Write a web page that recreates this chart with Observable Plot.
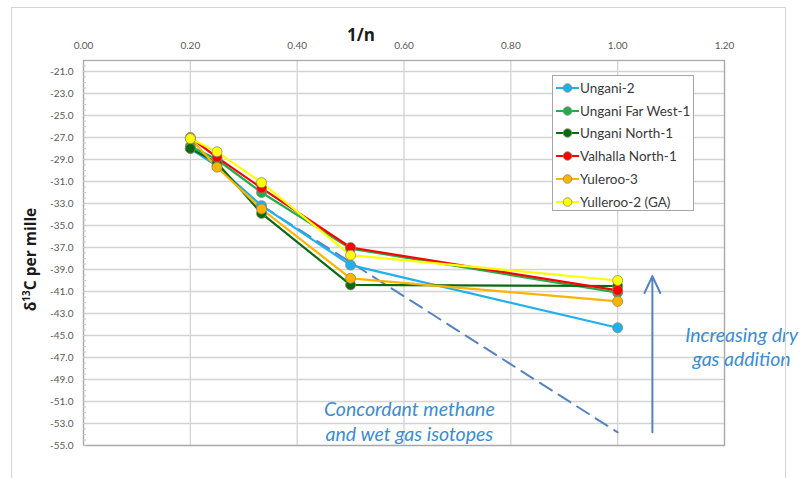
<!DOCTYPE html>
<html>
<head>
<meta charset="utf-8">
<script src="https://cdn.jsdelivr.net/npm/d3@7"></script>
<script src="https://cdn.jsdelivr.net/npm/@observablehq/plot@0.6"></script>
<style>
  html, body { margin: 0; padding: 0; background: #fff; }
  #wrap { position: relative; width: 807px; height: 478px; overflow: hidden; font-family: Lato, "Open Sans", sans-serif; }
  #outer { position: absolute; left: 11px; top: 7px; width: 773px; height: 500px; border: 1px solid #d4d4d4; pointer-events: none; }
  #legend { position: absolute; left: 552px; top: 75px; width: 140px; height: 134px; border: 1px solid #a6a6a6; background: #fff; }
  .item { position: absolute; left: 0; height: 20px; display: flex; align-items: center; font-size: 13.5px; color: #3a3a3a; white-space: nowrap; }
  .item svg { margin-left: 3px; margin-right: 1px; }
</style>
</head>
<body>
<div id="wrap"><div id="outer"></div><div id="legend"></div></div>
<script>
// 1/n for the carbon number of each gas component (C5, C4, C3, C2, C1)
const inverseN = [0.2, 0.25, 1 / 3, 0.5, 1.0];

const wells = ["Ungani-2", "Ungani Far West-1", "Ungani North-1", "Valhalla North-1", "Yuleroo-3", "Yulleroo-2 (GA)"];
const colors = ["#1fb0ee", "#1fae4f", "#0b6a10", "#ff0000", "#ffb300", "#ffff00"];

// δ13C (per mille) at each 1/n
const ungani2        = [-28.0, -29.6, -33.2, -38.6, -44.3];
const unganiFarWest1 = [-27.8, -29.0, -32.0, -37.1, -41.1];
const unganiNorth1   = [-28.0, -29.3, -33.9, -40.4, -40.5];
const valhallaNorth1 = [-27.0, -28.8, -31.6, -37.0, -40.9];
const yuleroo3       = [-27.1, -29.7, -33.5, -39.8, -41.9];
const yulleroo2GA    = [-27.1, -28.3, -31.1, -37.7, -40.0];
const series = [ungani2, unganiFarWest1, unganiNorth1, valhallaNorth1, yuleroo3, yulleroo2GA];

// axis ticks
const xTicks = [0, 0.2, 0.4, 0.6, 0.8, 1.0, 1.2];
const yTicks = d3.range(-55, -20, 2);
const yMinor = d3.range(-55, -20, 0.5);

// annotation: concordant trend and dry-gas arrow
const trend = [{x: 1 / 3, y: -33.2}, {x: 1.0, y: -53.8}];
const dryArrow = [{x: 1.065, y1: -53.8, y2: -39.6}];
const trendLabel = [{x: 0.61, y: -52.7, text: "Concordant methane\nand wet gas isotopes"}];
const dryLabel = [{x: 1.232, y: -46.0, text: "Increasing dry\ngas addition"}];

const rows = series.flatMap((vals, i) => vals.map((v, j) => ({well: wells[i], idx: i, x: inverseN[j], y: v})));

const annoColor = "#3b8dd3";
const arrowColor = "#5583c2";

const plot = Plot.plot({
  width: 807,
  height: 478,
  marginLeft: 83,
  marginRight: 83,
  marginTop: 60,
  marginBottom: 33,
  style: {fontFamily: "Lato, 'Open Sans', sans-serif", color: "#595959", background: "transparent"},
  x: {domain: [0, 1.2]},
  y: {domain: [-55, -20]},
  marks: [
    Plot.gridX(xTicks, {stroke: "#d3d3d3", strokeOpacity: 1, strokeWidth: 1.3}),
    Plot.gridY(yTicks, {stroke: "#d3d3d3", strokeOpacity: 1, strokeWidth: 1.3}),
    Plot.frame({stroke: "#a9a9a9", strokeWidth: 1.3}),
    Plot.axisX({anchor: "top", ticks: xTicks, tickSize: 0, tickPadding: 12, tickFormat: d => d.toFixed(2), fontSize: 10, label: null}),
    Plot.axisY({anchor: "left", ticks: yTicks, tickSize: 0, tickPadding: 10, tickFormat: d => d.toFixed(1), fontSize: 10, label: null}),
    Plot.axisY({anchor: "left", ticks: yMinor, tickSize: -3, tickFormat: () => "", stroke: "#c8c8c8", label: null}),
    Plot.text(["1/n"], {frameAnchor: "top", dx: -43, dy: -32, fontSize: 17, fontWeight: "bold", fill: "#1a1a1a", fontFamily: "'Open Sans', sans-serif"}),
    Plot.line(trend, {x: "x", y: "y", stroke: arrowColor, strokeWidth: 2, strokeDasharray: "14,8"}),
    Plot.arrow(dryArrow, {x: "x", y1: "y1", y2: "y2", stroke: arrowColor, strokeWidth: 2, headLength: 14, headAngle: 50}),
    Plot.text(trendLabel, {x: "x", y: "y", text: "text", fill: annoColor, fontSize: 19.5, fontStyle: "italic", lineHeight: 1.28}),
    Plot.text(dryLabel, {x: "x", y: "y", text: "text", fill: annoColor, fontSize: 19.5, fontStyle: "italic", lineHeight: 1.23}),
    ...series.map((vals, i) =>
      Plot.line(rows.filter(r => r.idx === i), {x: "x", y: "y", stroke: colors[i], strokeWidth: 2.2})
    ),
    ...series.map((vals, i) =>
      Plot.dot(rows.filter(r => r.idx === i), {x: "x", y: "y", r: 5, fill: colors[i], stroke: "#8a8a6a", strokeWidth: 0.8})
    )
  ]
});

// y-axis title with a true superscript
const yMid = (plot.scale("y").range[0] + plot.scale("y").range[1]) / 2;
const yTitle = d3.select(plot).append("text")
  .attr("transform", `translate(36,${yMid + 7}) rotate(-90)`)
  .attr("text-anchor", "middle")
  .attr("font-family", "'Open Sans', sans-serif")
  .attr("font-weight", "bold")
  .attr("font-size", 15.5)
  .attr("fill", "#1a1a1a");
yTitle.append("tspan").text("δ");
yTitle.append("tspan").attr("font-size", 10).attr("dy", -6).text("13");
yTitle.append("tspan").attr("dy", 6).text("C per mille");

const wrap = document.getElementById("wrap");
wrap.insertBefore(plot, wrap.firstChild);

// legend
const legend = document.getElementById("legend");
wells.forEach((name, i) => {
  const item = document.createElement("div");
  item.className = "item";
  item.style.top = (2 + i * 22.7) + "px";
  item.innerHTML = `<svg width="23" height="12"><line x1="0" y1="6" x2="23" y2="6" stroke="${colors[i]}" stroke-width="2"/><circle cx="11.5" cy="6" r="4.3" fill="${colors[i]}" stroke="#8a8a6a" stroke-width="0.8"/></svg>${name}`;
  legend.appendChild(item);
});
</script>
</body>
</html>
